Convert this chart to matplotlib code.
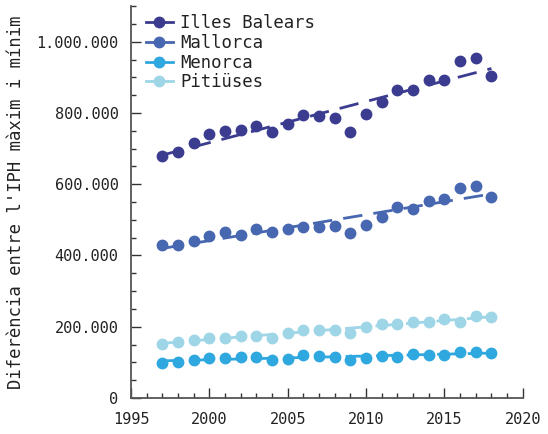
import numpy as np
import matplotlib.pyplot as plt
from matplotlib.lines import Line2D
from matplotlib.ticker import MultipleLocator, FuncFormatter

plt.rcParams['font.family'] = 'DejaVu Sans Mono'

years = list(range(1997, 2019))
illes_balears = [679000, 691000, 715000, 742000, 750000, 752000, 764000, 746000,
                 769000, 795000, 792000, 785000, 746000, 796000, 830000, 864000,
                 865000, 893000, 892000, 946000, 955000, 904000]
mallorca = [429000, 430000, 440000, 454000, 466000, 457000, 475000, 465000,
            475000, 481000, 479000, 484000, 462000, 485000, 507000, 536000,
            531000, 553000, 558000, 590000, 596000, 565000]
menorca = [98000, 102000, 108000, 113000, 113000, 116000, 114000, 106000,
           110000, 120000, 118000, 114000, 106000, 112000, 118000, 116000,
           124000, 120000, 121000, 129000, 130000, 126000]
pitiuses = [151000, 157000, 163000, 168000, 169000, 175000, 174000, 168000,
            182000, 192000, 192000, 191000, 183000, 200000, 208000, 208000,
            212000, 212000, 222000, 214000, 229000, 228000]

labels = ['Illes Balears', 'Mallorca', 'Menorca', 'Pitiüses']
colors = ['#3b3c8f', '#4767b0', '#2fa7df', '#9ed5e7']
series = [illes_balears, mallorca, menorca, pitiuses]

fig = plt.figure(figsize=(5.48, 4.34), dpi=100)
ax = fig.add_axes([0.239, 0.083, 0.715, 0.903])

x = np.array(years)
handles = []
for name, col, vals in zip(labels, colors, series):
    y = np.array(vals)
    ax.plot(x, y, 'o', color=col, ms=7.5, zorder=3)
    # tendència lineal
    slope, icpt = np.polyfit(x, y, 1)
    ax.plot(x, slope * x + icpt, '--', color=col, lw=2, dashes=(7, 4), zorder=2)
    handles.append(Line2D([0], [0], color=col, lw=2, marker='o', ms=7.5))

ax.set_xlim(1995, 2020)
ax.set_ylim(0, 1100000)
ax.xaxis.set_major_locator(MultipleLocator(5))
ax.xaxis.set_minor_locator(MultipleLocator(1))
ax.yaxis.set_major_locator(MultipleLocator(200000))
ax.yaxis.set_minor_locator(MultipleLocator(50000))
ax.yaxis.set_major_formatter(FuncFormatter(lambda v, p: f'{int(v):,}'.replace(',', '.')))

for s in ['top', 'right']:
    ax.spines[s].set_visible(False)
for s in ['left', 'bottom']:
    ax.spines[s].set_color('#555555')
    ax.spines[s].set_linewidth(1.3)

ax.tick_params(which='both', direction='in', color='#333333',
               labelsize=11, labelcolor='#222222')
ax.tick_params(which='major', length=7, width=1)
ax.tick_params(which='minor', length=3.5, width=1)
ax.tick_params(axis='x', pad=10)
ax.tick_params(axis='y', pad=9)

ax.set_ylabel("Diferència entre l'IPH màxim i mínim", fontsize=12.4,
              labelpad=8.5, color='#222222')

leg = ax.legend(handles, labels, loc='upper left', frameon=False, fontsize=12.4,
                handlelength=1.6, handletextpad=0.4, labelspacing=0.1,
                borderaxespad=0.0, bbox_to_anchor=(0.02, 0.997))
for t in leg.get_texts():
    t.set_color('#222222')

fig.savefig('out.png', dpi=100)
